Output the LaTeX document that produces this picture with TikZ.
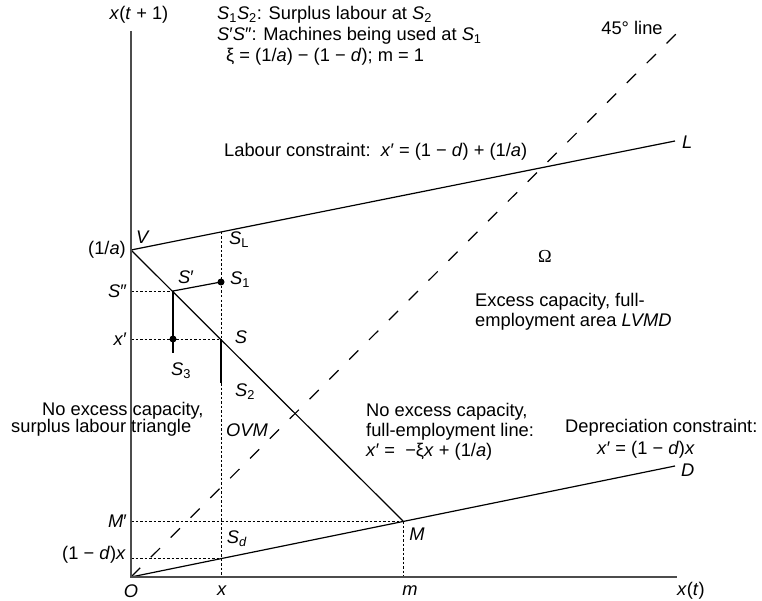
\documentclass[tikz,border=0pt]{standalone}
\usepackage{fontspec}
\setmainfont{Liberation Sans}
\newfontfamily\omfont{Liberation Serif}
\newcommand{\vi}[1]{\textit{#1}}
\begin{document}
\begin{tikzpicture}[x=1pt,y=-1pt,
  font=\fontsize{18.3}{21}\selectfont,
  axis/.style={line width=1.7pt, black!70},
  ln/.style={line width=1.2pt},
  dotl/.style={line width=0.8pt, dash pattern=on 2.5pt off 2pt},
  fortyfive/.style={line width=1.2pt, dash pattern=on 13pt off 15pt},
  lbl/.style={inner sep=0pt},
  wl/.style={inner sep=0pt, anchor=west},
  dotnode/.style={circle, fill, inner sep=0pt, minimum size=7pt}]
\useasboundingbox (0,0) rectangle (762,601);
% points
\coordinate (O) at (131,577);
\coordinate (Ytop) at (131,31);
\coordinate (Xend) at (677,577);
\coordinate (V) at (131,250);
\coordinate (Lend) at (675,141);
\coordinate (M) at (403,521);
\coordinate (Dend) at (675,466);
\coordinate (F) at (679,31);
\coordinate (SL) at (221,232);
\coordinate (Sp) at (173,291);
\node[dotnode] (S1) at (221,282) {};
\coordinate (S) at (221,339);
\node[dotnode] (S3) at (173,339) {};
\coordinate (S3b) at (173,353);
\coordinate (S2) at (221,383);
\coordinate (Xa) at (221,577);
\coordinate (Spp) at (131,291);
\coordinate (Xp) at (131,339);
\coordinate (Mp) at (131,521);
\coordinate (Dx) at (221,558.5);
\coordinate (Dy) at (131,558.5);
\coordinate (ma) at (403,577);
% lines
\draw[fortyfive] (O) -- (F);
\draw[ln] (V) -- (Lend);
\draw[ln] (O) -- (Dend);
\draw[ln] (V) -- (M);
\draw[dotl] (SL) -- (S1.center) -- (S);
\draw[dotl] (S2) -- (Xa);
\draw[dotl] (Spp) -- (Sp);
\draw[dotl] (Xp) -- (S);
\draw[dotl] (Mp) -- (M);
\draw[dotl] (Dy) -- (Dx);
\draw[dotl] (M) -- (ma);
\draw[ln] (Sp) -- (S1.center);
\draw[ln] (Sp) -- (S3b);
\draw[ln] (S) -- (S2);
\draw[axis] (Ytop) -- (O) -- (Xend);
% labels
\node[lbl] (tyl) at (139,15) {\vi{x}(\vi{t} + 1)};
\node[wl] (lg1) at (217,15) {\vi{S}\textsubscript{1}\vi{S}\textsubscript{2}: Surplus labour at \vi{S}\textsubscript{2}};
\node[wl] (lg2) at (217,36) {\vi{S}′\vi{S}″: Machines being used at \vi{S}\textsubscript{1}};
\node[wl] (lg3) at (226,57) {ξ = (1/\vi{a}) − (1 − \vi{d}); m = 1};
\node[lbl] (fl) at (632,28) {45° line};
\node[wl] (lc) at (224,152) {Labour constraint:\ \ \vi{x}′ = (1 − \vi{d}) + (1/\vi{a})};
\node[wl] (Ll) at (682,142) {\vi{L}};
\node[lbl] (Vl) at (143,237) {\vi{V}};
\node[lbl, anchor=east] (al) at (126,250) {(1/\vi{a})};
\node[lbl] (SLl) at (239,240) {\vi{S}\textsubscript{L}};
\node[lbl] (om) at (545,256) {\omfont Ω};
\node[wl] (ec1) at (475,302) {Excess capacity, full-};
\node[wl] (ec2) at (475,322) {employment area \vi{LVMD}};
\node[lbl, anchor=east] (Sppl) at (127,291) {\vi{S}″};
\node[lbl, anchor=east] (xpl) at (127,339) {\vi{x}′};
\node[lbl] (Spl) at (186,277) {\vi{S}′};
\node[lbl] (S1l) at (240,280) {\vi{S}\textsubscript{1}};
\node[lbl] (Sl) at (241,337) {\vi{S}};
\node[lbl] (S3l) at (181,371) {\vi{S}\textsubscript{3}};
\node[lbl] (S2l) at (245,392) {\vi{S}\textsubscript{2}};
\node[wl] (nel1) at (42,411) {No excess capacity,};
\node[wl] (nel2) at (11,428) {surplus labour triangle};
\node[lbl] (ovm) at (247,430) {\vi{OVM}};
\node[wl] (ner1) at (366,412) {No excess capacity,};
\node[wl] (ner2) at (366,432) {full-employment line:};
\node[wl] (ner3) at (366,452) {\vi{x}′ =\ \ −ξ\vi{x} + (1/\vi{a})};
\node[wl] (dc1) at (565,428) {Depreciation constraint:};
\node[wl] (dc2) at (597,450) {\vi{x}′ = (1 −\ \vi{d})\vi{x}};
\node[wl] (Dl) at (681,470) {\vi{D}};
\node[lbl, anchor=east] (Mpl) at (127,521) {\vi{M}′};
\node[lbl, anchor=east] (dxl) at (126,555) {(1 − \vi{d})\vi{x}};
\node[lbl] (Sdl) at (237,539) {\vi{S}\textsubscript{\vi{d}}};
\node[lbl] (Ml) at (417,534) {\vi{M}};
\node[lbl] (Ol) at (131,591) {\vi{O}};
\node[lbl] (xl) at (222,591) {\vi{x}};
\node[lbl] (ml) at (410,591) {\vi{m}};
\node[lbl] (xtl) at (691,591) {\vi{x}(\vi{t})};
\end{tikzpicture}
\end{document}
